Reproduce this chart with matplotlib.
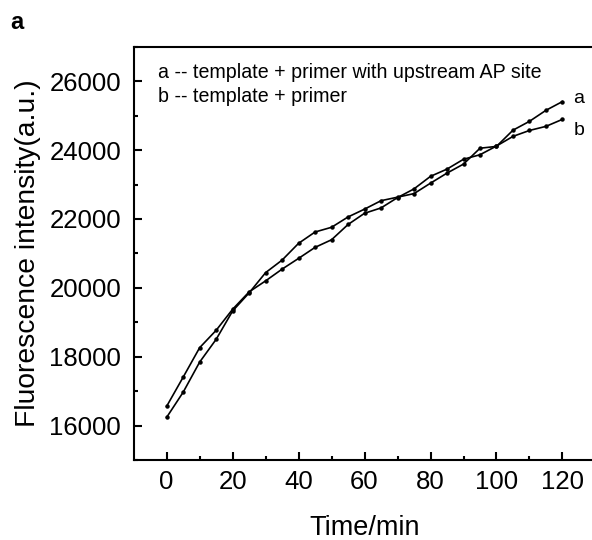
import numpy as np
import matplotlib
matplotlib.use('Agg')
import matplotlib.pyplot as plt

plt.rcParams['font.family'] = ['Liberation Sans', 'DejaVu Sans']

# time points (min)
time = np.arange(0, 125, 5)

# a -- template + primer with upstream AP site
fl_a = [16241, 16970, 17844, 18505, 19329, 19854, 20442, 20806, 21293, 21622,
        21759, 22059, 22286, 22531, 22633, 22737, 23040, 23332, 23594, 24054,
        24107, 24578, 24835, 25155, 25409]
# b -- template + primer
fl_b = [16562, 17407, 18263, 18767, 19379, 19883, 20203, 20544, 20856, 21176,
        21397, 21840, 22166, 22321, 22621, 22874, 23238, 23448, 23734, 23865,
        24118, 24398, 24570, 24689, 24893]

legend_lines = ['a -- template + primer with upstream AP site',
                'b -- template + primer']

fig = plt.figure(figsize=(5.92, 5.4), dpi=100)
ax = fig.add_axes([0.2258, 0.148, 0.780, 0.7654])

ax.plot(time, fl_a, color='k', lw=1.2, marker='o', markersize=2.2)
ax.plot(time, fl_b, color='k', lw=1.2, marker='o', markersize=2.2)

ax.set_xlim(-10, 130)
ax.set_ylim(15000, 27000)
ax.set_xticks(np.arange(0, 121, 20))
ax.set_xticks(np.arange(10, 131, 20), minor=True)
ax.set_yticks(np.arange(16000, 26001, 2000))
ax.set_yticks(np.arange(15000, 27001, 2000), minor=True)

for s in ax.spines.values():
    s.set_linewidth(1.5)
ax.tick_params(which='major', direction='in', length=6, width=1.5, labelsize=18.5)
ax.tick_params(axis='y', which='major', pad=9)
ax.tick_params(axis='x', which='major', pad=7)
ax.tick_params(which='minor', direction='in', length=3, width=1.5)

ax.set_xlabel('Time/min', fontsize=19.5, labelpad=15)
ax.set_ylabel('Fluorescence intensity(a.u.)', fontsize=20.3, labelpad=6)

ax.text(0.0526, 0.925, legend_lines[0], transform=ax.transAxes, fontsize=14.1, va='baseline')
ax.text(0.0526, 0.8655, legend_lines[1], transform=ax.transAxes, fontsize=14.1, va='baseline')
ax.text(0.952, 0.863, 'a', transform=ax.transAxes, fontsize=14, va='baseline')
ax.text(0.952, 0.786, 'b', transform=ax.transAxes, fontsize=14, va='baseline')

fig.text(0.017, 0.958, 'a', fontsize=17, fontweight='bold', va='center')

fig.savefig('out.png', dpi=100)
